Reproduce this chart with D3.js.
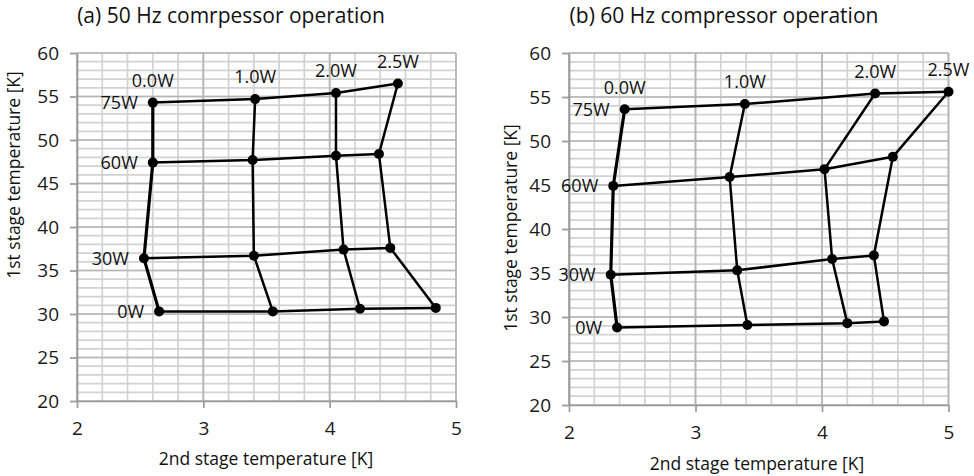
<!DOCTYPE html>
<html>
<head>
<meta charset="utf-8">
<script src="https://cdn.jsdelivr.net/npm/d3@7"></script>
<style>
  body { margin: 0; background: #fff; }
  svg { display: block; font-family: "Open Sans", "Noto Sans", sans-serif; }
</style>
</head>
<body>
<svg id="chart" width="974" height="476"></svg>
<script>
// heat loads on each stage (row = 1st stage load, column = 2nd stage load)
const rowLoads = ["0W", "30W", "60W", "75W"];
const colLoads = ["0.0W", "1.0W", "2.0W", "2.5W"];

// 50 Hz: 2nd stage temperature [K] and 1st stage temperature [K], rows 0W..75W
const t2nd50 = [
  [2.65, 3.55, 4.24, 4.84],
  [2.53, 3.40, 4.11, 4.48],
  [2.60, 3.39, 4.05, 4.39],
  [2.60, 3.41, 4.05, 4.54]
];
const t1st50 = [
  [30.3, 30.3, 30.6, 30.7],
  [36.4, 36.7, 37.4, 37.6],
  [47.4, 47.7, 48.2, 48.4],
  [54.3, 54.7, 55.4, 56.5]
];

// 60 Hz
const t2nd60 = [
  [2.38, 3.41, 4.20, 4.49],
  [2.33, 3.33, 4.08, 4.41],
  [2.35, 3.27, 4.02, 4.56],
  [2.44, 3.39, 4.42, 5.00]
];
const t1st60 = [
  [28.8, 29.1, 29.3, 29.5],
  [34.8, 35.3, 36.6, 37.0],
  [44.9, 45.9, 46.8, 48.2],
  [53.6, 54.2, 55.4, 55.6]
];

const xTicks = [2, 3, 4, 5];
const yTicks = [20, 25, 30, 35, 40, 45, 50, 55, 60];

const svg = d3.select("#chart");

const panels = [
  { title: "(a) 50 Hz comrpessor operation", t2: t2nd50, t1: t1st50,
    x0: 77, x1: 456, yTop: 53, yBot: 401, titleX: 231, yTitleY: 175, yTitleX: 14, xTitleX: 266, xTitleY: 465 },
  { title: "(b) 60 Hz compressor operation", t2: t2nd60, t1: t1st60,
    x0: 569, x1: 948.5, yTop: 53, yBot: 405, titleX: 724, yTitleY: 228, yTitleX: 511, xTitleX: 757, xTitleY: 470 }
];

panels.forEach(p => drawPanel(p));

function drawPanel(p) {
  const x = d3.scaleLinear().domain([2, 5]).range([p.x0, p.x1]);
  const y = d3.scaleLinear().domain([20, 60]).range([p.yBot, p.yTop]);
  const g = svg.append("g");

  // minor grid
  const minorX = d3.range(2, 5.0001, 0.2);
  const minorY = d3.range(20, 60.0001, 1);
  g.append("g").selectAll("line").data(minorX).join("line")
    .attr("x1", d => x(d)).attr("x2", d => x(d))
    .attr("y1", y(20)).attr("y2", y(60))
    .attr("stroke", "#d2d2d2").attr("stroke-width", 1.7);
  g.append("g").selectAll("line").data(minorY).join("line")
    .attr("x1", x(2)).attr("x2", x(5))
    .attr("y1", d => y(d)).attr("y2", d => y(d))
    .attr("stroke", "#d2d2d2").attr("stroke-width", 1.7);

  // major grid
  g.append("g").selectAll("line").data(xTicks).join("line")
    .attr("x1", d => x(d)).attr("x2", d => x(d))
    .attr("y1", y(20)).attr("y2", y(60))
    .attr("stroke", "#b5b5b5").attr("stroke-width", 1.7);
  g.append("g").selectAll("line").data(yTicks).join("line")
    .attr("x1", x(2)).attr("x2", x(5))
    .attr("y1", d => y(d)).attr("y2", d => y(d))
    .attr("stroke", "#b5b5b5").attr("stroke-width", 1.7);

  // axes
  const ax = g.append("g")
    .attr("transform", `translate(0,${p.yBot})`)
    .call(d3.axisBottom(x).tickValues(xTicks).tickFormat(d3.format("d"))
      .tickSize(7).tickSizeOuter(0).tickPadding(14));
  const ay = g.append("g")
    .attr("transform", `translate(${p.x0},0)`)
    .call(d3.axisLeft(y).tickValues(yTicks).tickFormat(d3.format("d"))
      .tickSize(7).tickSizeOuter(0).tickPadding(11));
  [ax, ay].forEach(a => {
    a.select(".domain").attr("stroke", "#999").attr("stroke-width", 1.7);
    a.selectAll(".tick line").attr("stroke", "#999").attr("stroke-width", 1.7);
    a.selectAll(".tick text").attr("fill", "#1a1a1a").style("font-size", "19px")
      .style("font-family", "'Open Sans', sans-serif");
  });

  // rows (constant 1st stage load)
  const line = d3.line().x(d => x(d[0])).y(d => y(d[1]));
  rowLoads.forEach((r, i) => {
    const pts = p.t2[i].map((v, j) => [v, p.t1[i][j]]);
    g.append("path").datum(pts)
      .attr("fill", "none").attr("stroke", "#000").attr("stroke-width", 2.5)
      .attr("stroke-linejoin", "round").attr("d", line);
  });
  // columns (constant 2nd stage load)
  colLoads.forEach((c, j) => {
    const pts = p.t2.map((row, i) => [row[j], p.t1[i][j]]);
    g.append("path").datum(pts)
      .attr("fill", "none").attr("stroke", "#000").attr("stroke-width", j === 0 ? 3.2 : 2.5)
      .attr("stroke-linejoin", "round").attr("d", line);
  });

  // points
  const allPts = p.t2.flatMap((row, i) => row.map((v, j) => [v, p.t1[i][j]]));
  g.append("g").selectAll("circle").data(allPts).join("circle")
    .attr("cx", d => x(d[0])).attr("cy", d => y(d[1]))
    .attr("r", 5).attr("fill", "#000");

  // data labels
  g.append("g").selectAll("text").data(rowLoads).join("text")
    .attr("x", (d, i) => x(p.t2[i][0]) - 15)
    .attr("y", (d, i) => y(p.t1[i][0]))
    .attr("dy", "0.35em").attr("text-anchor", "end")
    .style("font-size", "18px").attr("fill", "#111").text(d => d);
  g.append("g").selectAll("text").data(colLoads).join("text")
    .attr("x", (d, j) => x(p.t2[3][j]))
    .attr("y", (d, j) => y(p.t1[3][j]) - 22)
    .attr("dy", "0.35em").attr("text-anchor", "middle")
    .style("font-size", "18px").attr("fill", "#111").text(d => d);

  // titles
  svg.append("text").attr("x", p.titleX).attr("y", 23)
    .attr("text-anchor", "middle").style("font-size", "21px").attr("fill", "#111")
    .text(p.title);
  svg.append("text").attr("x", p.xTitleX).attr("y", p.xTitleY)
    .attr("text-anchor", "middle").style("font-size", "17.5px").attr("fill", "#111")
    .text("2nd stage temperature [K]");
  svg.append("text")
    .attr("transform", `translate(${p.yTitleX},${p.yTitleY}) rotate(-90)`)
    .attr("text-anchor", "middle").attr("dy", "0.35em")
    .style("font-size", "17.5px").attr("fill", "#111")
    .text("1st stage temperature [K]");
}
</script>
</body>
</html>
